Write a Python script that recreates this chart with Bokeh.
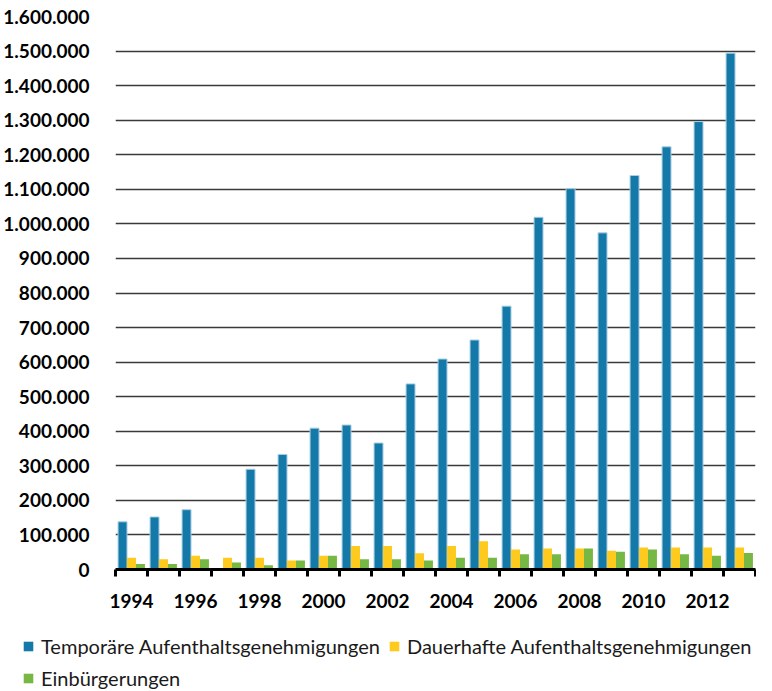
from bokeh.plotting import figure
from bokeh.models import (Range1d, FixedTicker, Legend, LegendItem, ColumnDataSource)
from bokeh.layouts import column
from bokeh.transform import dodge
from bokeh.embed import file_html
from bokeh.resources import INLINE

years = list(range(1994, 2014))
temporaer = [138000, 152000, 173000, 0, 290000, 333000, 409000, 418000, 366000, 537000,
             609000, 664000, 762000, 1019000, 1102000, 974000, 1140000, 1223000, 1296000, 1494000]
dauerhaft = [34000, 30000, 40000, 34000, 34000, 26000, 40000, 68000, 68000, 47000,
             68000, 82000, 58000, 61000, 61000, 54000, 64000, 64000, 64000, 64000]
einbuergerungen = [16000, 16000, 30000, 20000, 12000, 26000, 40000, 30000, 30000, 26000,
                   34000, 34000, 44000, 44000, 61000, 51000, 58000, 44000, 40000, 48000]
series_names = ["Temporäre Aufenthaltsgenehmigungen", "Dauerhafte Aufenthaltsgenehmigungen", "Einbürgerungen"]
y_ticks = list(range(0, 1600001, 100000))
y_tick_labels = ["0", "100.000", "200.000", "300.000", "400.000", "500.000", "600.000", "700.000",
                 "800.000", "900.000", "1.000.000", "1.100.000", "1.200.000", "1.300.000",
                 "1.400.000", "1.500.000", "1.600.000"]
x_label_years = list(range(1994, 2013, 2))

colors = ["#1479a8", "#ffca1e", "#76b843"]

src = ColumnDataSource(dict(year=years, t=temporaer, d=dauerhaft, e=einbuergerungen))

p = figure(width=756, height=615, output_backend="svg", toolbar_location=None,
           x_range=Range1d(1993.5, 2013.5), y_range=Range1d(0, 1600000),
           min_border_left=103, min_border_right=1, min_border_top=16, min_border_bottom=46)
p.outline_line_color = None
p.background_fill_color = "white"
p.border_fill_color = "white"

w = 0.28
r1 = p.vbar(x=dodge("year", -w, range=p.x_range), top="t", width=w, source=src,
            fill_color=colors[0], line_color="#a8cfe3", line_width=1)
r2 = p.vbar(x=dodge("year", 0, range=p.x_range), top="d", width=w, source=src,
            fill_color=colors[1], line_color=None)
r3 = p.vbar(x=dodge("year", w, range=p.x_range), top="e", width=w, source=src,
            fill_color=colors[2], line_color=None)

# y axis
p.yaxis.ticker = FixedTicker(ticks=y_ticks)
p.yaxis.major_label_overrides = {v: l for v, l in zip(y_ticks, y_tick_labels)}
p.yaxis.axis_line_color = None
p.yaxis.major_tick_line_color = None
p.yaxis.minor_tick_line_color = None
p.yaxis.major_label_standoff = 20
p.yaxis.major_label_text_font = "Lato"
p.yaxis.major_label_text_font_style = "bold"
p.yaxis.major_label_text_font_size = "19px"
p.yaxis.major_label_text_color = "#000000"

p.ygrid.ticker = FixedTicker(ticks=y_ticks)
p.ygrid.grid_line_color = "#3a3a3a"
p.ygrid.grid_line_width = 1.5
p.xgrid.grid_line_color = None

# x axis
p.xaxis.ticker = FixedTicker(ticks=x_label_years,
                             minor_ticks=[y - 0.5 for y in years] + [years[-1] + 0.5])
p.xaxis.major_label_overrides = {y: str(y) for y in x_label_years}
p.xaxis.axis_line_color = "black"
p.xaxis.axis_line_width = 3
p.xaxis.major_tick_out = 0
p.xaxis.major_tick_in = 0
p.xaxis.minor_tick_out = 7
p.xaxis.minor_tick_in = 0
p.xaxis.minor_tick_line_width = 3
p.xaxis.minor_tick_line_color = "black"
p.xaxis.major_label_standoff = 17
p.xaxis.major_label_text_font = "Lato"
p.xaxis.major_label_text_font_style = "bold"
p.xaxis.major_label_text_font_size = "19px"
p.xaxis.major_label_text_color = "#000000"

# legend figure (keys drawn from hidden copies of the series)
pl = figure(width=756, height=76, output_backend="svg", toolbar_location=None,
            x_range=Range1d(1993.5, 2013.5), y_range=Range1d(0, 1600000),
            x_axis_location=None, y_axis_location=None,
            min_border_left=0, min_border_right=0, min_border_top=0, min_border_bottom=0)
pl.outline_line_color = None
pl.grid.visible = False
for fig in (p, pl):
    if "frame_align" in fig.properties():
        fig.frame_align = False
d1 = pl.vbar(x="year", top="t", width=w, source=src, fill_color=colors[0], line_color=None, visible=False)
d2 = pl.vbar(x="year", top="d", width=w, source=src, fill_color=colors[1], line_color=None, visible=False)
d3 = pl.vbar(x="year", top="e", width=w, source=src, fill_color=colors[2], line_color=None, visible=False)
legend = Legend(items=[LegendItem(label=series_names[0], renderers=[d1]),
                       LegendItem(label=series_names[1], renderers=[d2]),
                       LegendItem(label=series_names[2], renderers=[d3])],
                location=(22, 1), orientation="horizontal", ncols=2,
                glyph_width=12, glyph_height=12, label_standoff=7, label_height=20,
                spacing=8, padding=0, margin=0, border_line_color=None,
                background_fill_alpha=0, inactive_fill_alpha=0,
                label_text_font="Lato", label_text_font_size="20px",
                label_text_color="#1a1a1a")
pl.add_layout(legend, "center")

layout = column(p, pl, spacing=0)
open("out.html", "w").write(file_html(layout, INLINE))
